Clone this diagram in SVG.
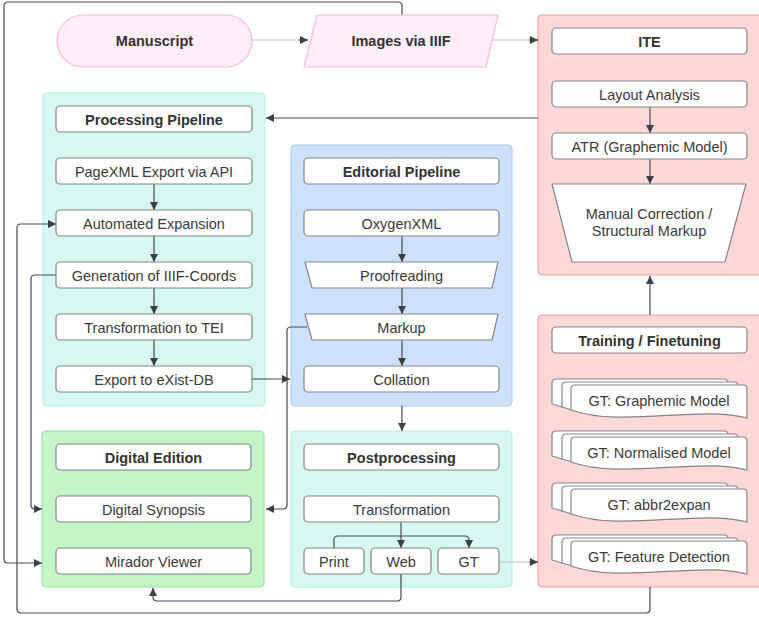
<svg xmlns="http://www.w3.org/2000/svg" width="759" height="618" viewBox="0 0 759 618">
<defs>
<style>
.bg{fill:#ffffff}
.cy{fill:#d6f8f1;stroke:#b3eee0;stroke-width:1}
.bl{fill:#cde1fd;stroke:#a9c9f2;stroke-width:1}
.gr{fill:#c4f5c9;stroke:#8fe09b;stroke-width:1}
.rd{fill:#ffd7d7;stroke:#f19a9a;stroke-width:1}
.pk{fill:#ffeef8;stroke:#ffb7d5;stroke-width:1.2}
.nd{fill:#ffffff;stroke:#858585;stroke-width:1.2}
.t{font-family:"Liberation Sans",Arial,sans-serif;font-size:14.5px;fill:#3a3a3a;text-anchor:middle}
.b{font-weight:bold;fill:#333333}
.c{fill:none;stroke:#454a52;stroke-width:1.2;stroke-linejoin:round}
.lc{fill:none;stroke:#c4c4c4;stroke-width:1.2}
</style>
<marker id="ah" viewBox="0 0 10 10" refX="10" refY="5" markerWidth="8" markerHeight="8" markerUnits="userSpaceOnUse" orient="auto">
<path d="M0,0 L10,5 L0,10 Z" fill="#3b3f47"/>
</marker>
<path id="doc" d="M4,0 H172 Q176,0 176,4 V33 C130,20 50,43 0,25 V4 Q0,0 4,0 Z" class="nd"/>
</defs>
<rect class="bg" x="0" y="0" width="759" height="618"/>

<!-- containers -->
<g id="processing-container"><rect class="cy" x="43" y="93" width="222" height="313" rx="4"/></g>
<g id="editorial-container"><rect class="bl" x="291" y="145" width="221" height="261" rx="4"/></g>
<g id="edition-container"><rect class="gr" x="42" y="431" width="222" height="156" rx="4"/></g>
<g id="post-container"><rect class="cy" x="291" y="431" width="221" height="156" rx="4"/></g>
<g id="ite-container"><rect class="rd" x="538" y="15" width="230" height="260" rx="4"/></g>
<g id="training-container"><rect class="rd" x="538" y="315" width="230" height="272" rx="4"/></g>

<!-- connectors -->
<g id="connectors">
<path class="lc" d="M252,40 H300"/><path class="c" d="M299,40 H308" marker-end="url(#ah)"/>
<path class="lc" d="M493,40 H530"/><path class="c" d="M529,40 H538" marker-end="url(#ah)"/>
<path class="c" d="M538,118 H266" marker-end="url(#ah)"/>
<path class="c" d="M650,107 V133" marker-end="url(#ah)"/>
<path class="c" d="M650,159 V184" marker-end="url(#ah)"/>
<path class="c" d="M650,315 V276" marker-end="url(#ah)"/>
<path class="c" d="M154,184 V210" marker-end="url(#ah)"/>
<path class="c" d="M154,236 V262" marker-end="url(#ah)"/>
<path class="c" d="M154,288 V314" marker-end="url(#ah)"/>
<path class="c" d="M154,340 V366" marker-end="url(#ah)"/>
<path class="c" d="M252,379 H290" marker-end="url(#ah)"/>
<path class="c" d="M402,236 V262" marker-end="url(#ah)"/>
<path class="c" d="M402,288 V314" marker-end="url(#ah)"/>
<path class="c" d="M402,340 V366" marker-end="url(#ah)"/>
<path class="c" d="M402,406 V431" marker-end="url(#ah)"/>
<path class="c" d="M307,327 H291 Q287,327 287,331 V505 Q287,509 283,509 H266" marker-end="url(#ah)"/>
<path class="c" d="M56,275 H35 Q31,275 31,279 V505 Q31,509 35,509 H42" marker-end="url(#ah)"/>
<path class="c" d="M402,15 V6 Q402,2 398,2 H8 Q4,2 4,6 V559 Q4,563 8,563 H42" marker-end="url(#ah)"/>
<path class="c" d="M650,587 V609 Q650,613 646,613 H21 Q17,613 17,609 V228 Q17,224 21,224 H56" marker-end="url(#ah)"/>
<path class="c" d="M401,574 V597 Q401,601 397,601 H157 Q153,601 153,597 V588" marker-end="url(#ah)"/>
<path class="c" d="M401,522 V548" marker-end="url(#ah)"/>
<path class="c" d="M334,548 V540 Q334,536 338,536 H465 Q469,536 469,540 V548" marker-end="url(#ah)"/>
<path class="lc" d="M499,562 H530"/><path class="c" d="M529,562 H538" marker-end="url(#ah)"/>
</g>

<!-- top -->
<g id="manuscript"><rect class="pk" x="57" y="15" width="195" height="52" rx="26"/><text class="t b" x="154.5" y="46">Manuscript</text></g>
<g id="images-iiif"><polygon class="pk" points="317,15 498,15 486,67 304,67" stroke-linejoin="round"/><text class="t b" x="401" y="46">Images via IIIF</text></g>

<!-- processing pipeline -->
<g id="pp-header"><rect class="nd" x="56" y="106" width="196" height="26" rx="4"/><text class="t b" x="154" y="125">Processing Pipeline</text></g>
<g id="pagexml"><rect class="nd" x="56" y="158" width="196" height="26" rx="4"/><text class="t" x="154" y="177">PageXML Export via API</text></g>
<g id="expansion"><rect class="nd" x="56" y="210" width="196" height="26" rx="4"/><text class="t" x="154" y="229">Automated Expansion</text></g>
<g id="iiif-coords"><rect class="nd" x="56" y="262" width="196" height="26" rx="4"/><text class="t" x="154" y="281">Generation of IIIF-Coords</text></g>
<g id="to-tei"><rect class="nd" x="56" y="314" width="196" height="26" rx="4"/><text class="t" x="154" y="333">Transformation to TEI</text></g>
<g id="exist"><rect class="nd" x="56" y="366" width="196" height="26" rx="4"/><text class="t" x="154" y="385">Export to eXist-DB</text></g>

<!-- editorial pipeline -->
<g id="ep-header"><rect class="nd" x="304" y="158" width="195" height="26" rx="4"/><text class="t b" x="401.5" y="177">Editorial Pipeline</text></g>
<g id="oxygen"><rect class="nd" x="304" y="210" width="195" height="26" rx="4"/><text class="t" x="401.5" y="229">OxygenXML</text></g>
<g id="proofreading"><polygon class="nd" points="305,262 498,262 492,288 312,288" stroke-linejoin="round"/><text class="t" x="401.5" y="281">Proofreading</text></g>
<g id="markup"><polygon class="nd" points="305,314 498,314 492,340 312,340" stroke-linejoin="round"/><text class="t" x="401.5" y="333">Markup</text></g>
<g id="collation"><rect class="nd" x="304" y="366" width="195" height="26" rx="4"/><text class="t" x="401.5" y="385">Collation</text></g>

<!-- digital edition -->
<g id="de-header"><rect class="nd" x="56" y="444" width="195" height="26" rx="4"/><text class="t b" x="153.5" y="463">Digital Edition</text></g>
<g id="synopsis"><rect class="nd" x="56" y="496" width="195" height="26" rx="4"/><text class="t" x="153.5" y="515">Digital Synopsis</text></g>
<g id="mirador"><rect class="nd" x="56" y="548" width="195" height="26" rx="4"/><text class="t" x="153.5" y="567">Mirador Viewer</text></g>

<!-- postprocessing -->
<g id="post-header"><rect class="nd" x="304" y="444" width="195" height="26" rx="4"/><text class="t b" x="401.5" y="463">Postprocessing</text></g>
<g id="transformation"><rect class="nd" x="304" y="496" width="195" height="26" rx="4"/><text class="t" x="401.5" y="515">Transformation</text></g>
<g id="print"><rect class="nd" x="304" y="548" width="60" height="26" rx="4"/><text class="t" x="334" y="567">Print</text></g>
<g id="web"><rect class="nd" x="371" y="548" width="60" height="26" rx="4"/><text class="t" x="401" y="567">Web</text></g>
<g id="gt"><rect class="nd" x="438" y="548" width="61" height="26" rx="4"/><text class="t" x="468.5" y="567">GT</text></g>

<!-- ITE -->
<g id="ite-header"><rect class="nd" x="552" y="28" width="195" height="26" rx="4"/><text class="t b" x="649.5" y="47">ITE</text></g>
<g id="layout"><rect class="nd" x="552" y="81" width="195" height="26" rx="4"/><text class="t" x="649.5" y="100">Layout Analysis</text></g>
<g id="atr"><rect class="nd" x="552" y="133" width="195" height="26" rx="4"/><text class="t" x="649.5" y="152">ATR (Graphemic Model)</text></g>
<g id="manual"><polygon class="nd" points="552,184 746,184 725,262 572,262" stroke-linejoin="round"/><text class="t" x="649" y="219">Manual Correction /</text><text class="t" x="649" y="236">Structural Markup</text></g>

<!-- training -->
<g id="tr-header"><rect class="nd" x="552" y="327" width="195" height="26" rx="4"/><text class="t b" x="649.5" y="346">Training / Finetuning</text></g>
<g id="gt-graphemic"><use href="#doc" x="552" y="379"/><use href="#doc" x="562" y="382"/><use href="#doc" x="571" y="385"/><text class="t" x="659" y="406">GT: Graphemic Model</text></g>
<g id="gt-normalised"><use href="#doc" x="552" y="431"/><use href="#doc" x="562" y="434"/><use href="#doc" x="571" y="437"/><text class="t" x="659" y="458">GT: Normalised Model</text></g>
<g id="gt-abbr"><use href="#doc" x="552" y="483"/><use href="#doc" x="562" y="486"/><use href="#doc" x="571" y="489"/><text class="t" x="659" y="510">GT: abbr2expan</text></g>
<g id="gt-feature"><use href="#doc" x="552" y="535"/><use href="#doc" x="562" y="538"/><use href="#doc" x="571" y="541"/><text class="t" x="659" y="562">GT: Feature Detection</text></g>
</svg>
